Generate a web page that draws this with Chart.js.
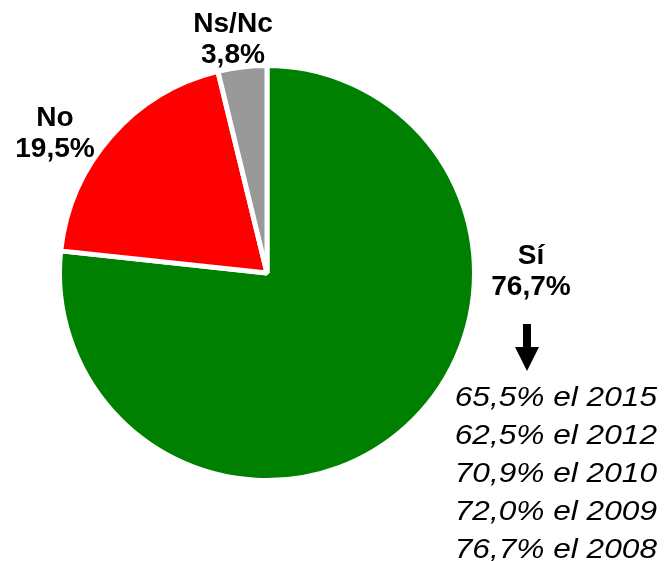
<!DOCTYPE html>
<html>
<head>
<meta charset="utf-8">
<script src="https://cdn.jsdelivr.net/npm/chart.js@4"></script>
<style>
  html, body { margin: 0; padding: 0; background: #fff; }
  #wrap { width: 664px; height: 561px; }
</style>
</head>
<body>
<div id="wrap"><canvas id="pie"></canvas></div>
<script>
// data
const categories = ['Sí', 'No', 'Ns/Nc'];
const values = [76.7, 19.5, 3.8];
const sliceColors = ['#008000', '#ff0000', '#999999'];
// earlier years for "Sí"
const historyLines = ['65,5% el 2015', '62,5% el 2012', '70,9% el 2010', '72,0% el 2009', '76,7% el 2008'];

function fmt(v) {
    return v.toFixed(1).replace('.', ',') + '%';
}

// where the name / value pair of each slice sits (centre x, baseline of first line)
const labelSpots = [
    { x: 531, y: 264 },
    { x: 55, y: 126 },
    { x: 233, y: 32 }
];

// text a bit stretched sideways, like the original export
function wideText(ctx, text, x, y, sx) {
    ctx.save();
    ctx.translate(x, y);
    ctx.scale(sx, 1);
    ctx.fillText(text, 0, 0);
    ctx.restore();
}

const labelsPlugin = {
    id: 'sliceLabels',
    afterDraw(chart) {
        const ctx = chart.ctx;
        ctx.save();
        ctx.fillStyle = '#000';
        ctx.textAlign = 'center';
        ctx.textBaseline = 'alphabetic';
        ctx.font = 'bold 27px "Liberation Sans", Arial, sans-serif';
        categories.forEach(function (name, i) {
            const p = labelSpots[i];
            wideText(ctx, name, p.x, p.y, 1.04);
            wideText(ctx, fmt(values[i]), p.x, p.y + 31, 1.04);
        });

        // down arrow under the Sí label
        ctx.beginPath();
        ctx.moveTo(523, 324);
        ctx.lineTo(531, 324);
        ctx.lineTo(531, 347);
        ctx.lineTo(539, 347);
        ctx.lineTo(527, 371);
        ctx.lineTo(515, 347);
        ctx.lineTo(523, 347);
        ctx.closePath();
        ctx.fill();

        // history lines
        ctx.textAlign = 'right';
        ctx.font = 'italic 28px "Liberation Sans", Arial, sans-serif';
        historyLines.forEach(function (t, i) {
            wideText(ctx, t, 657, 406 + i * 38, 1.13);
        });
        ctx.restore();
    }
};

const ctx = document.getElementById('pie').getContext('2d');
const pieChart = new Chart(ctx, {
    type: 'pie',
    data: {
        labels: categories,
        datasets: [{
            data: values,
            backgroundColor: sliceColors,
            borderColor: '#ffffff',
            borderWidth: 5
        }]
    },
    options: {
        responsive: true,
        maintainAspectRatio: false,
        animation: false,
        layout: {
            padding: { left: 57, right: 187, top: 63, bottom: 78 }
        },
        plugins: {
            legend: { display: false },
            tooltip: { enabled: false }
        }
    },
    plugins: [labelsPlugin]
});
</script>
</body>
</html>
